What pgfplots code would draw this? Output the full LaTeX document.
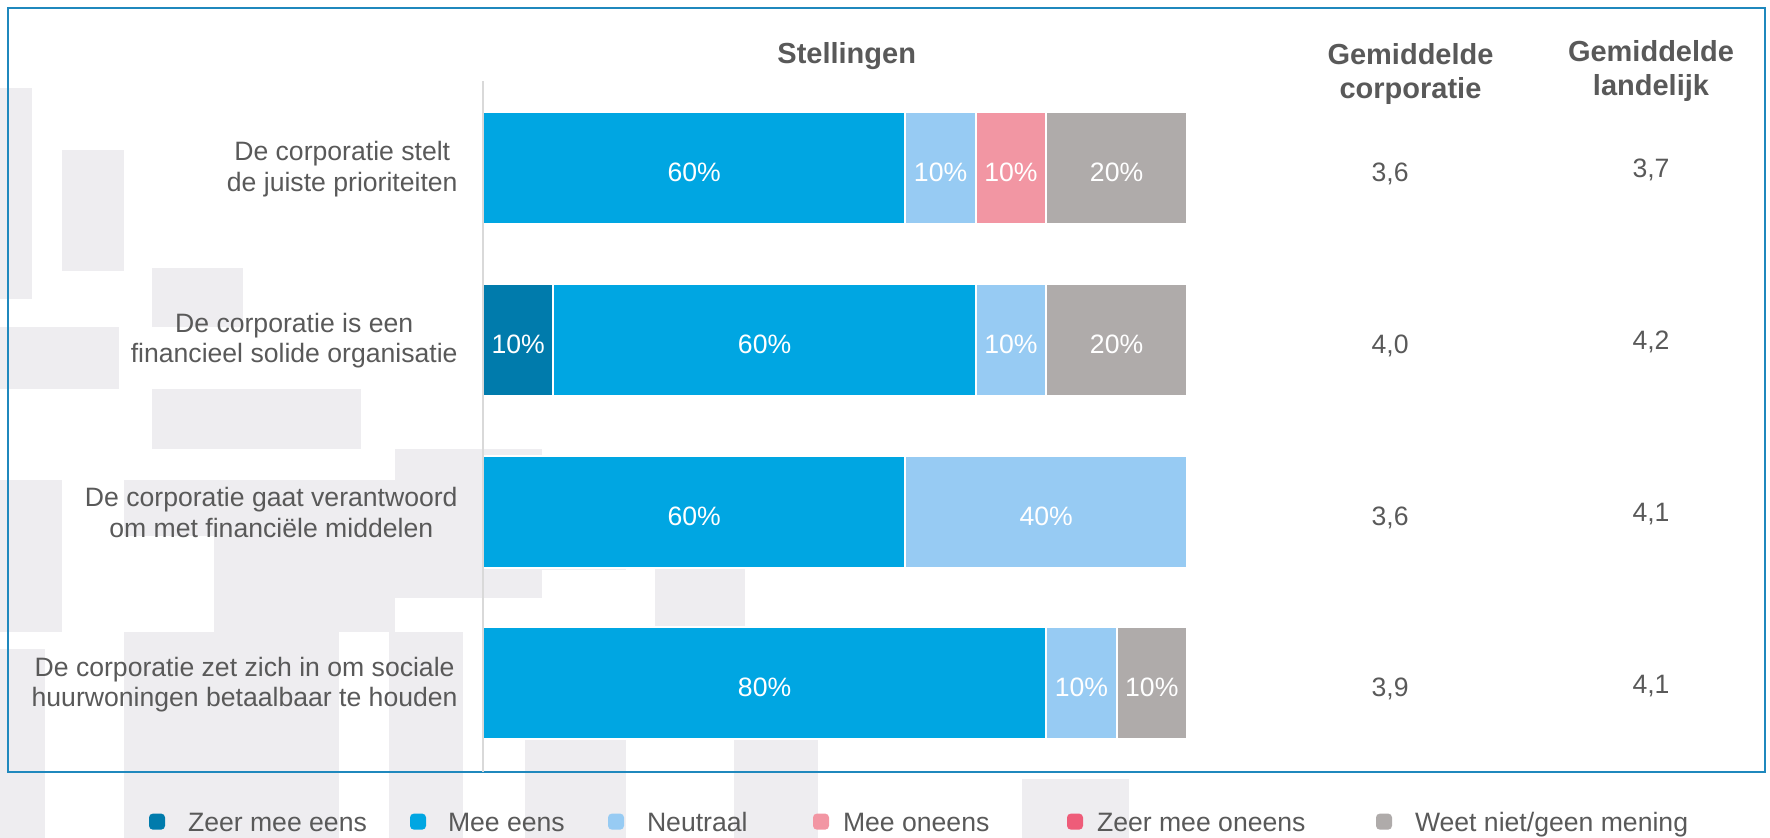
\documentclass[border=0pt]{standalone}
\usepackage{pgfplots}
\pgfplotsset{compat=1.18}
\usepackage{pgfplotstable}
\usepackage{fontspec}
\setmainfont{Liberation Sans}
\definecolor{zme}{HTML}{007BAC}
\definecolor{me}{HTML}{00A6E2}
\definecolor{neu}{HTML}{97CBF3}
\definecolor{mo}{HTML}{F296A3}
\definecolor{zmo}{HTML}{EE5C79}
\definecolor{wn}{HTML}{AFABAA}
\definecolor{txt}{HTML}{595959}
\definecolor{frm}{HTML}{1F88BD}
\definecolor{bg}{HTML}{EEEDF0}
\definecolor{axgray}{HTML}{D9D9D9}

\pgfplotstableread{
y zme me neu mo zmo wn
3 0 60 10 10 0 20
2 10 60 10 0 0 20
1 0 60 40 0 0 0
0 0 80 10 0 0 10
}\stellingen

\newcommand{\fnt}{\fontsize{13.3}{15.2}\selectfont}
\newcommand{\bfnt}{\bfseries\fontsize{14.5}{14.2}\selectfont}

\begin{document}
\begin{tikzpicture}
\useasboundingbox (-241.5pt,-33pt) rectangle (643.5pt,386pt);
% background (coordinates in image pixels)
\begin{scope}[x=0.5pt,y=-0.5pt,shift={(-241.5pt,386pt)}]
\fill[bg] (0,88) rectangle (32,299);
\fill[bg] (62,150) rectangle (124,271);
\fill[bg] (152,268) rectangle (243,327);
\fill[bg] (0,327) rectangle (119,389);
\fill[bg] (152,389) rectangle (361,449);
\fill[bg] (0,480) rectangle (62,632);
\fill[bg] (395,449) rectangle (542,598);
\fill[bg] (124,480) rectangle (395,536);
\fill[bg] (214,536) rectangle (395,632);
\fill[bg] (525,531) rectangle (626,570);
\fill[bg] (655,568) rectangle (745,626);
\fill[bg] (0,649) rectangle (45,838);
\fill[bg] (124,632) rectangle (339,838);
\fill[bg] (389,632) rectangle (463,838);
\fill[bg] (525,739) rectangle (626,838);
\fill[bg] (734,739) rectangle (818,838);
\fill[bg] (1022,779) rectangle (1129,838);
\draw[frm, line width=1pt] (8,8) rectangle (1765,772);
\end{scope}

\begin{axis}[
  at={(0pt,0pt)}, anchor=south west,
  scale only axis, width=352pt, height=345.5pt,
  xbar stacked, bar width=56pt,
  xmin=0, xmax=100, ymin=-0.515, ymax=3.506,
  axis x line=none,
  axis y line=left,
  y axis line style={-, draw=axgray, line width=1pt},
  axis on top,
  ytick={0,1,2,3},
  yticklabels={{De corporatie zet zich in om sociale\\huurwoningen betaalbaar te houden},
               {De corporatie gaat verantwoord\\om met financiële middelen},
               {De corporatie is een\\financieel solide organisatie},
               {De corporatie stelt\\de juiste prioriteiten}},
  major tick length=0pt,
  yticklabel style={align=center, inner sep=0pt, xshift=-12.5pt, yshift=-0.5pt, font=\fnt, text=txt},
  clip=false,
  point meta=explicit,
  /pgf/number format/assume math mode=true,
  nodes near coords={\pgfmathfloatifflags{\pgfplotspointmeta}{0}{}{\pgfmathprintnumber[fixed,precision=0]{\pgfplotspointmeta}\%}},
  every node near coord/.append style={anchor=base, yshift=-6.7pt, text=white, font=\fnt},
  legend style={draw=none, fill=none, legend columns=6,
    at={(axis description cs:-0.4744,-0.0738)}, anchor=west,
    inner sep=0pt, outer sep=0pt, font=\fnt, text=txt,
    /tikz/every odd column/.style={column sep=7pt},
    /tikz/every even column/.style={column sep=0pt},
    nodes={inner sep=0pt}, cells={anchor=base west}},
]
\addplot[fill=zme, draw=white, line width=1pt, legend image code/.code={\fill[zme, rounded corners=1.5pt] (0pt,1.25pt) rectangle (7pt,8.25pt);}] table[x=zme, y=y, meta=zme] {\stellingen};
\addlegendentry{\makebox[115.5pt][l]{\hspace{4.5pt}Zeer mee eens}}
\addplot[fill=me, draw=white, line width=1pt, legend image code/.code={\fill[me, rounded corners=1.5pt] (0pt,1.25pt) rectangle (7pt,8.25pt);}] table[x=me, y=y, meta=me] {\stellingen};
\addlegendentry{\makebox[84pt][l]{\hspace{4pt}Mee eens}}
\addplot[fill=neu, draw=white, line width=1pt, legend image code/.code={\fill[neu, rounded corners=1.5pt] (0pt,1.25pt) rectangle (7pt,8.25pt);}] table[x=neu, y=y, meta=neu] {\stellingen};
\addlegendentry{\makebox[87.5pt][l]{\hspace{4.5pt}Neutraal}}
\addplot[fill=mo, draw=white, line width=1pt, legend image code/.code={\fill[mo, rounded corners=1.5pt] (0pt,1.25pt) rectangle (7pt,8.25pt);}] table[x=mo, y=y, meta=mo] {\stellingen};
\addlegendentry{\makebox[112pt][l]{Mee oneens}}
\addplot[fill=zmo, draw=white, line width=1pt, legend image code/.code={\fill[zmo, rounded corners=1.5pt] (0pt,1.25pt) rectangle (7pt,8.25pt);}] table[x=zmo, y=y, meta=zmo] {\stellingen};
\addlegendentry{\makebox[139.5pt][l]{Zeer mee oneens}}
\addplot[fill=wn, draw=white, line width=1pt, legend image code/.code={\fill[wn, rounded corners=1.5pt] (0pt,1.25pt) rectangle (7pt,8.25pt);}] table[x=wn, y=y, meta=wn] {\stellingen};
\addlegendentry{\hspace{4.5pt}Weet niet/geen mening}
\end{axis}

\begin{axis}[
  at={(0pt,0pt)}, anchor=south west,
  scale only axis, width=352pt, height=345.5pt,
  xmin=0, xmax=100, ymin=-0.515, ymax=3.506,
  hide axis, clip=false,
  point meta=explicit,
  /pgf/number format/assume math mode=true,
  nodes near coords={\pgfmathprintnumber[fixed,fixed zerofill,precision=1,use comma]{\pgfplotspointmeta}},
  every node near coord/.append style={anchor=base, font=\fnt, text=txt},
]
\addplot[draw=none, mark=none, every node near coord/.append style={yshift=-6.7pt}] coordinates {(128.84,3) [3.6] (128.84,2) [4.0] (128.84,1) [3.6] (128.84,0) [3.9]};
\addplot[draw=none, mark=none, every node near coord/.append style={yshift=-5pt}] coordinates {(165.91,3) [3.7] (165.91,2) [4.2] (165.91,1) [4.1] (165.91,0) [4.1]};
\end{axis}

\node[font=\bfnt, text=txt, anchor=base, inner sep=0pt] at (181.85pt,354pt) {Stellingen};
\node[font=\bfnt, text=txt, anchor=base, inner sep=0pt] at (463.75pt,353.5pt) {Gemiddelde};
\node[font=\bfnt, text=txt, anchor=base, inner sep=0pt] at (463.75pt,336.5pt) {corporatie};
\node[font=\bfnt, text=txt, anchor=base, inner sep=0pt] at (584pt,355pt) {Gemiddelde};
\node[font=\bfnt, text=txt, anchor=base, inner sep=0pt] at (584pt,338pt) {landelijk};
\end{tikzpicture}
\end{document}
